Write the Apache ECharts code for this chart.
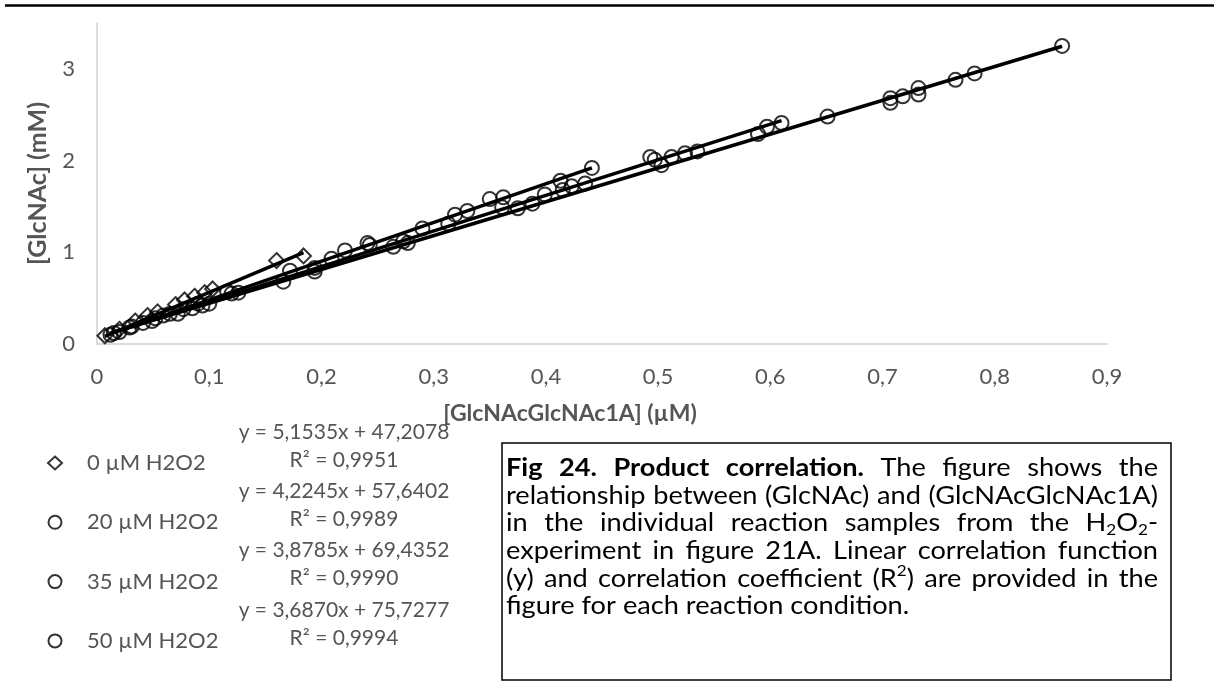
<!DOCTYPE html>
<html>
<head>
<meta charset="utf-8">
<script src="https://cdn.jsdelivr.net/npm/echarts@6/dist/echarts.min.js"></script>
<style>
  html, body { margin: 0; padding: 0; background: #fff; }
  #chart { width: 1219px; height: 695px; }
</style>
</head>
<body>
<div id="chart"></div>
<script>
// Series names (legend order)
const seriesNames = ['0 µM H2O2', '20 µM H2O2', '35 µM H2O2', '50 µM H2O2'];

// Measured samples: [GlcNAcGlcNAc1A, GlcNAc]
const data0uM = [
  [0.007, 0.09], [0.020, 0.16], [0.034, 0.25], [0.045, 0.31], [0.054, 0.35], [0.070, 0.43],
  [0.078, 0.48], [0.087, 0.52], [0.096, 0.56], [0.103, 0.60], [0.160, 0.91], [0.184, 0.96]
];
const data20uM = [
  [0.020, 0.13], [0.041, 0.23], [0.059, 0.31], [0.077, 0.38], [0.090, 0.44], [0.116, 0.57],
  [0.172, 0.80], [0.209, 0.93], [0.221, 1.02], [0.241, 1.10], [0.243, 1.08], [0.290, 1.26],
  [0.319, 1.41], [0.330, 1.45], [0.350, 1.58], [0.362, 1.60], [0.413, 1.78], [0.441, 1.92]
];
const data35uM = [
  [0.015, 0.12], [0.031, 0.19], [0.052, 0.28], [0.065, 0.33], [0.085, 0.39], [0.100, 0.44],
  [0.120, 0.55], [0.194, 0.83], [0.273, 1.12], [0.313, 1.31], [0.361, 1.49], [0.399, 1.63],
  [0.415, 1.68], [0.423, 1.72], [0.435, 1.75], [0.493, 2.04], [0.497, 2.01], [0.512, 2.04],
  [0.524, 2.08], [0.535, 2.10], [0.597, 2.37], [0.610, 2.41]
];
const data50uM = [
  [0.012, 0.10], [0.029, 0.18], [0.049, 0.25], [0.072, 0.33], [0.094, 0.42], [0.126, 0.56],
  [0.166, 0.68], [0.194, 0.79], [0.264, 1.06], [0.277, 1.10], [0.375, 1.48], [0.388, 1.53],
  [0.503, 1.95], [0.589, 2.29], [0.651, 2.48], [0.707, 2.63], [0.707, 2.68], [0.718, 2.70],
  [0.732, 2.72], [0.732, 2.79], [0.765, 2.88], [0.782, 2.95], [0.860, 3.25]
];

// Linear fits (intercepts are given in µM, the plot is in mM)
const slopes = [5.1535, 4.2245, 3.8785, 3.6870];
const interceptsUM = [47.2078, 57.6402, 69.4352, 75.7277];
const rSquared = [0.9951, 0.9989, 0.9990, 0.9994];

// Axis ticks
const xTicks = { min: 0, max: 0.9, step: 0.1 };
const yTicks = { min: 0, max: 3.5, step: 1 };

const allData = [data0uM, data20uM, data35uM, data50uM];
const symbols = ['diamond', 'circle', 'circle', 'circle'];

const FONT = 'Lato';
const GREY = '#555555';

const comma = (v, d) => v.toFixed(d).replace('.', ',');

const chart = echarts.init(document.getElementById('chart'), null, { renderer: 'canvas' });

// scatter series + fitted trend lines over each series' x range
const series = [];
allData.forEach((d, i) => {
  series.push({
    name: seriesNames[i],
    type: 'scatter',
    data: d,
    symbol: symbols[i],
    symbolSize: i === 0 ? 15 : 14,
    itemStyle: { color: 'rgba(0,0,0,0)', borderColor: '#000', borderWidth: 2 },
    z: 3
  });
  const xs = d.map(p => p[0]);
  const x0 = Math.min(...xs), x1 = Math.max(...xs);
  const b = interceptsUM[i] / 1000;
  series.push({
    name: seriesNames[i] + ' fit',
    type: 'line',
    data: [[x0, slopes[i] * x0 + b], [x1, slopes[i] * x1 + b]],
    showSymbol: false,
    lineStyle: { color: '#000', width: 3.5 },
    z: 2
  });
});

// legend rows and equation labels
const rowY0 = 458, rowStep = 59.3;
const graphics = [];

graphics.push({
  type: 'line', shape: { x1: 5, y1: 5.5, x2: 1214, y2: 5.5 },
  style: { stroke: '#000', lineWidth: 2.5 }
});

graphics.push({
  type: 'text', x: 570, y: 414,
  style: { text: '[GlcNAcGlcNAc1A] (µM)', fontFamily: FONT, fontSize: 23, fontWeight: 'bold',
           fill: GREY, align: 'center', verticalAlign: 'middle' }
});

slopes.forEach((s, i) => {
  const yc = rowY0 + rowStep * i;
  graphics.push({
    type: 'text', x: 344, y: yc - 26,
    style: { text: 'y = ' + comma(s, 4) + 'x + ' + comma(interceptsUM[i], 4),
             fontFamily: FONT, fontSize: 21, fill: GREY, align: 'center', verticalAlign: 'middle' }
  });
  graphics.push({
    type: 'text', x: 344, y: yc + 2,
    style: { text: 'R² = ' + comma(rSquared[i], 4),
             fontFamily: FONT, fontSize: 21, fill: GREY, align: 'center', verticalAlign: 'middle' }
  });
});

// caption box with justified text
const captionLines = [
  [{ t: 'Fig 24. Product correlation.', bold: true }, { t: ' The figure shows the' }],
  [{ t: 'relationship between (GlcNAc) and (GlcNAcGlcNAc1A)' }],
  [{ t: 'in the individual reaction samples from the H' }, { t: '2', sub: true }, { t: 'O' }, { t: '2', sub: true }, { t: '-' }],
  [{ t: 'experiment in figure 21A. Linear correlation function' }],
  [{ t: '(y) and correlation coefficient (R' }, { t: '2', sup: true }, { t: ') are provided in the' }],
  [{ t: 'figure for each reaction condition.' }]
];

graphics.push({
  type: 'rect', shape: { x: 502, y: 443, width: 669, height: 237 },
  style: { fill: '#fff', stroke: '#000', lineWidth: 1.5 }
});

const CAP_SIZE = 25.5, SMALL_SIZE = 16;
const styleOf = p => ({
  text: p.t, fontFamily: FONT, fontSize: (p.sub || p.sup) ? SMALL_SIZE : CAP_SIZE,
  fontWeight: p.bold ? 'bold' : 'normal'
});
// width of a text run as laid out by the chart's own text engine
const measure = p => new echarts.graphic.Text({ style: styleOf(p) }).getBoundingRect().width;

function toWords(runs) {
  const words = []; let cur = [];
  runs.forEach(r => {
    r.t.split(' ').forEach((part, k) => {
      if (k > 0) { if (cur.length) words.push(cur); cur = []; }
      if (part) cur.push({ t: part, bold: r.bold, sub: r.sub, sup: r.sup });
    });
  });
  if (cur.length) words.push(cur);
  return words;
}

const capLeft = 506, capRight = 1158, capTop = 468, capStep = 27.6;
const capWidth = capRight - capLeft;
const spaceW = measure({ t: 'a a' }) - measure({ t: 'aa' });

const captionWords = captionLines.map(toWords);
const naturalWidths = captionWords.map(ws => ws.map(w => w.reduce((a, p) => a + measure(p), 0)));
// widen the type as far as the fullest justified line allows
const SX = Math.min(...captionWords.slice(0, -1).map((ws, i) =>
  capWidth / (naturalWidths[i].reduce((a, b) => a + b, 0) + spaceW * 1.1 * (ws.length - 1))));

captionWords.forEach((words, li) => {
  const widths = naturalWidths[li].map(w => w * SX);
  const total = widths.reduce((a, b) => a + b, 0);
  const last = li === captionWords.length - 1;
  const gap = last ? spaceW * SX : (capWidth - total) / (words.length - 1);
  let x = capLeft;
  const y = capTop + capStep * li;
  words.forEach((w, wi) => {
    let px = x;
    w.forEach(p => {
      const dy = p.sub ? 7 : (p.sup ? -8 : 0);
      graphics.push({
        type: 'text', x: px, y: y + dy, scaleX: SX, scaleY: 1,
        style: Object.assign(styleOf(p), { fill: '#000', align: 'left', verticalAlign: 'middle' })
      });
      px += measure(p) * SX;
    });
    x += widths[wi] + gap;
  });
});

const option = {
  animation: false,
  backgroundColor: '#fff',
  grid: { left: 97, right: 112, top: 23, bottom: 351 },
  xAxis: {
    type: 'value', min: xTicks.min, max: xTicks.max, interval: xTicks.step,
    axisLine: { show: true, lineStyle: { color: '#d0d0d0', width: 1.5 } },
    axisTick: { show: false },
    splitLine: { show: false },
    axisLabel: { color: GREY, fontSize: 22, fontFamily: FONT, margin: 22,
                 formatter: v => (v === 0 ? '0' : comma(v, 1)) }
  },
  yAxis: {
    type: 'value', min: yTicks.min, max: yTicks.max, interval: yTicks.step,
    name: '[GlcNAc] (mM)', nameLocation: 'middle', nameGap: 47, nameRotate: 90,
    nameTextStyle: { color: GREY, fontSize: 25, fontWeight: 'bold', fontFamily: FONT },
    axisLine: { show: true, lineStyle: { color: '#d0d0d0', width: 1.5 } },
    axisTick: { show: false },
    splitLine: { show: false },
    axisLabel: { color: GREY, fontSize: 22, fontFamily: FONT, margin: 22, showMaxLabel: false,
                 formatter: v => (Number.isInteger(v) ? String(v) : '') }
  },
  legend: {
    orient: 'vertical', left: 42, top: rowY0 - 12, itemWidth: 14, itemHeight: 13,
    itemGap: rowStep - 24, selectedMode: false,
    textStyle: { color: GREY, fontSize: 22, fontFamily: FONT, lineHeight: 24, padding: [0, 0, 0, 20] },
    data: seriesNames.map((n, i) => ({
      name: n, icon: symbols[i],
      itemStyle: { color: '#fff', borderColor: '#000', borderWidth: 2 }
    }))
  },
  series: series,
  graphic: graphics
};

chart.setOption(option);
</script>
</body>
</html>
